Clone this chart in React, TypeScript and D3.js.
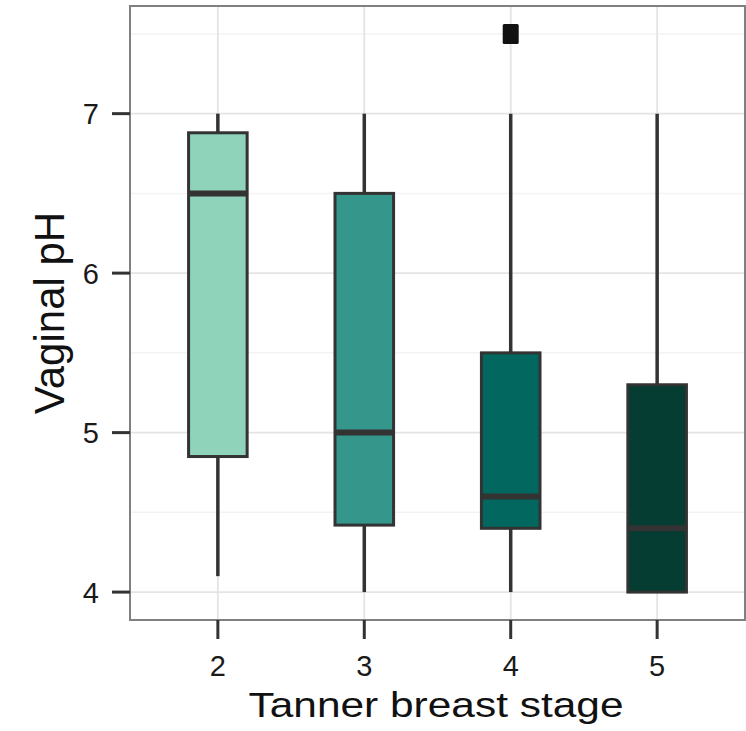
import React from "react";
import * as d3 from "d3";

const categories = ["2", "3", "4", "5"];
const lowerWhisker = [4.1, 4, 4, 4];
const q1 = [4.85, 4.42, 4.4, 4.0];
const median = [6.5, 5.0, 4.6, 4.4];
const q3 = [6.88, 6.5, 5.5, 5.3];
const upperWhisker = [7, 7, 7, 7];
const outlierCats = ["4"];
const outlierValues = [7.5];
const fills = ["#8fd3bb", "#35968c", "#02675e", "#053d33"];
const yTicks = [4, 5, 6, 7];
const yMinor = [4.5, 5.5, 6.5, 7.5];

const W = 746;
const H = 731;
const L = 130, R = 745, T = 6, B = 620;

export default function App() {
  const y = d3.scaleLinear().domain([3.825, 7.675]).range([B, T]);
  const x = d3.scalePoint<string>().domain(categories).range([L, R]).padding(0.6);
  const bw = x.step() * 0.4;
  const font = "'Liberation Sans', Arial, Helvetica, sans-serif";
  const dark = "#333333";
  return (
    <svg width={W} height={H} style={{ position: "absolute", left: 0, top: 0, background: "#fff" }}>
      <rect x={L} y={T} width={R - L} height={B - T} fill="#fff" />
      {yMinor.map((v) => (
        <line key={"mi" + v} x1={L} x2={R} y1={y(v)} y2={y(v)} stroke="#f3f3f3" strokeWidth={1.5} />
      ))}
      {yTicks.map((v) => (
        <line key={"ma" + v} x1={L} x2={R} y1={y(v)} y2={y(v)} stroke="#e4e4e4" strokeWidth={1.8} />
      ))}
      {categories.map((c) => (
        <line key={"gx" + c} x1={x(c)} x2={x(c)} y1={T} y2={B} stroke="#e4e4e4" strokeWidth={1.8} />
      ))}
      {categories.map((c, i) => {
        const cx = x(c)!;
        return (
          <g key={"box" + c}>
            <line x1={cx} x2={cx} y1={y(upperWhisker[i])} y2={y(q3[i])} stroke={dark} strokeWidth={3.5} />
            <line x1={cx} x2={cx} y1={y(q1[i])} y2={y(lowerWhisker[i])} stroke={dark} strokeWidth={3.5} />
            <rect
              x={cx - bw / 2}
              y={y(q3[i])}
              width={bw}
              height={y(q1[i]) - y(q3[i])}
              fill={fills[i]}
              stroke={dark}
              strokeWidth={3}
            />
            <line x1={cx - bw / 2} x2={cx + bw / 2} y1={y(median[i])} y2={y(median[i])} stroke={dark} strokeWidth={6} />
          </g>
        );
      })}
      {outlierCats.map((c, i) => (
        <rect
          key={"out" + i}
          x={x(c)! - 8}
          y={y(outlierValues[i]) - 10}
          width={16}
          height={20}
          rx={1.5}
          fill="#111"
        />
      ))}
      <rect x={L} y={T} width={R - L} height={B - T} fill="none" stroke="#808080" strokeWidth={2} />
      {yTicks.map((v) => (
        <g key={"yt" + v}>
          <line x1={L - 18} x2={L} y1={y(v)} y2={y(v)} stroke={dark} strokeWidth={3} />
          <text x={99} y={y(v)} dy="0.36em" textAnchor="end" fontFamily={font} fontSize={29} fill="#1a1a1a">
            {v}
          </text>
        </g>
      ))}
      {categories.map((c) => (
        <g key={"xt" + c}>
          <line x1={x(c)} x2={x(c)} y1={B} y2={B + 19} stroke={dark} strokeWidth={3} />
          <text x={x(c)} y={676} textAnchor="middle" fontFamily={font} fontSize={29} fill="#1a1a1a">
            {c}
          </text>
        </g>
      ))}
      <text
        x={436}
        y={717}
        textAnchor="middle"
        fontFamily={font}
        fontSize={35}
        fill="#111"
        textLength={375}
        lengthAdjust="spacingAndGlyphs"
      >
        Tanner breast stage
      </text>
      <text
        transform={`translate(64, ${(T + B) / 2}) rotate(-90)`}
        textAnchor="middle"
        fontFamily={font}
        fontSize={42}
        fill="#111"
      >
        Vaginal pH
      </text>
    </svg>
  );
}
